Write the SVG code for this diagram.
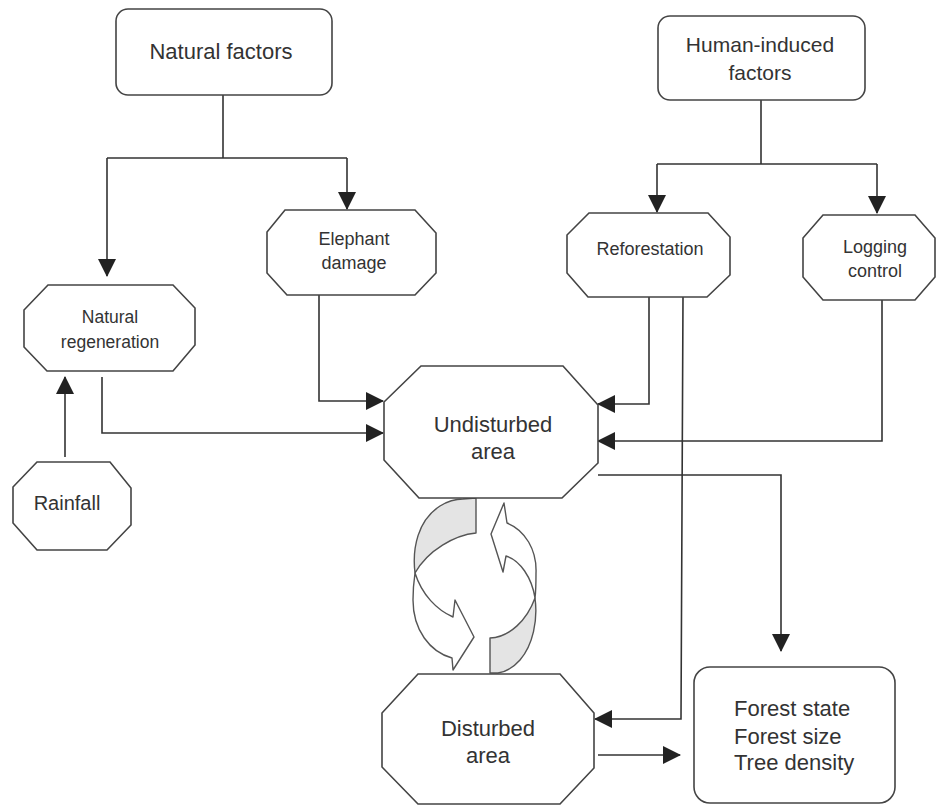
<svg xmlns="http://www.w3.org/2000/svg" width="941" height="805" viewBox="0 0 941 805">
<defs>
<style>
.box{fill:#fff;stroke:#444;stroke-width:1.6}
.t{font-family:"Liberation Sans",Arial,sans-serif;fill:#333;text-anchor:middle}
.c{fill:none;stroke:#333;stroke-width:1.6}
.rib{stroke:#555;stroke-width:1.4;stroke-linejoin:round}
</style>
<marker id="ah" viewBox="0 0 18 18" refX="17" refY="9" markerWidth="18" markerHeight="18" markerUnits="userSpaceOnUse" orient="auto">
<path d="M0,0 L18,9 L0,18 Z" fill="#222"/>
</marker>
</defs>
<rect width="941" height="805" fill="#fff"/>

<g id="connectors">
<path class="c" d="M223,95 V158 M107,158 H347"/>
<path class="c" d="M107,158 V276" marker-end="url(#ah)"/>
<path class="c" d="M347,158 V209" marker-end="url(#ah)"/>
<path class="c" d="M761,100 V164 M657,164 H877"/>
<path class="c" d="M657,164 V212" marker-end="url(#ah)"/>
<path class="c" d="M877,164 V213" marker-end="url(#ah)"/>
<path class="c" d="M319,295 V401 H383" marker-end="url(#ah)"/>
<path class="c" d="M102,377 V433 H383" marker-end="url(#ah)"/>
<path class="c" d="M65,457 V377" marker-end="url(#ah)"/>
<path class="c" d="M649,297 V404 H598" marker-end="url(#ah)"/>
<path class="c" d="M882,300 V441 H598" marker-end="url(#ah)"/>
<path class="c" d="M683,297 L681,719 H595" marker-end="url(#ah)"/>
<path class="c" d="M598,475 H781 V651" marker-end="url(#ah)"/>
<path class="c" d="M598,755 H680" marker-end="url(#ah)"/>
</g>

<g id="cycle">
<path class="rib" fill="#e4e4e4" d="M476,498 L476,533 C455,535 428,550 415,573 C412,548 418,520 440,506 C448,501 456,499 463,499 Z"/>
<path class="rib" fill="#fff" d="M415,573 C422,595 437,610 453,617 L455,600 L474,637 L453,670 L452,658 C430,652 413,630 413,600 C413,590 414,580 415,573 Z"/>
<path class="rib" fill="#e4e4e4" d="M490,673 L490,638 C510,637 527,620 535,598 C538,620 533,645 520,660 C513,668 505,672 498,673 Z"/>
<path class="rib" fill="#fff" d="M535,598 C532,578 520,560 506,556 L503,572 L491,534 L504,503 L507,523 C525,530 537,550 536,573 C536,582 536,590 535,598 Z"/>
</g>

<g id="natural-factors">
<rect class="box" x="116" y="9" width="216" height="86" rx="12"/>
<text class="t" x="221" y="59" font-size="22">Natural factors</text>
</g>

<g id="human-factors">
<rect class="box" x="658" y="16" width="207" height="84" rx="12"/>
<text class="t" x="760" y="52" font-size="21">Human-induced</text>
<text class="t" x="760" y="80" font-size="21">factors</text>
</g>

<g id="elephant-damage">
<polygon class="box" points="285,210 415,210 436,233 436,273 415,295 287,295 267,273 267,232"/>
<text class="t" x="354" y="245" font-size="18">Elephant</text>
<text class="t" x="354" y="269" font-size="18">damage</text>
</g>

<g id="reforestation">
<polygon class="box" points="589,213 708,213 730,237 730,275 707,297 588,297 567,273 567,235"/>
<text class="t" x="650" y="255" font-size="18">Reforestation</text>
</g>

<g id="logging-control">
<polygon class="box" points="823,215 915,215 935,238 935,277 915,300 823,300 803,277 803,238"/>
<text class="t" x="875" y="253" font-size="18">Logging</text>
<text class="t" x="875" y="277" font-size="18">control</text>
</g>

<g id="natural-regeneration">
<polygon class="box" points="48,285 173,285 195,308 195,345 173,371 47,371 24,347 24,310"/>
<text class="t" x="110" y="323" font-size="17.5">Natural</text>
<text class="t" x="110" y="348" font-size="17.5">regeneration</text>
</g>

<g id="rainfall">
<polygon class="box" points="37,462 110,462 131,488 131,525 107,550 37,550 13,523 13,487"/>
<text class="t" x="67" y="510" font-size="20">Rainfall</text>
</g>

<g id="undisturbed-area">
<polygon class="box" points="421,366 563,366 598,405 598,463 562,498 419,498 384,460 384,402"/>
<text class="t" x="493" y="432" font-size="22">Undisturbed</text>
<text class="t" x="493" y="459" font-size="22">area</text>
</g>

<g id="disturbed-area">
<polygon class="box" points="418,674 560,674 594,713 594,768 560,804 418,804 382,767 382,713"/>
<text class="t" x="488" y="736" font-size="22">Disturbed</text>
<text class="t" x="488" y="763" font-size="22">area</text>
</g>

<g id="forest-state">
<rect class="box" x="694" y="667" width="201" height="136" rx="16"/>
<text class="t" x="734" y="716" font-size="22" style="text-anchor:start">Forest state</text>
<text class="t" x="734" y="744" font-size="22" style="text-anchor:start">Forest size</text>
<text class="t" x="734" y="770" font-size="22" style="text-anchor:start">Tree density</text>
</g>
</svg>
